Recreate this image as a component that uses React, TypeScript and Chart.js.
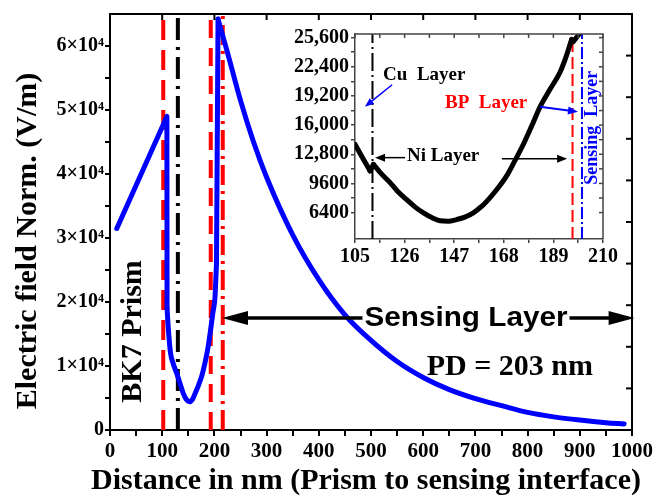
import React, { useEffect, useRef } from "react";
import { Chart, registerables } from "chart.js";

Chart.register(...registerables);

// ---------- Main chart data ----------
const DIST_NM = [13, 109, 109.3, 112, 116, 121, 128, 134, 140, 146, 152, 158, 164, 170, 176, 182, 188, 192, 197, 201, 204, 207, 226, 250, 275, 300, 350, 400, 450, 500, 550, 600, 650, 700, 750, 800, 850, 900, 950, 985];
const FIELD_VM = [31500, 49000, 19000, 15500, 12000, 10400, 8800, 7300, 5800, 4800, 4400, 4800, 5900, 7100, 8500, 10500, 13000, 15200, 18300, 20600, 26000, 64200, 58700, 51500, 45000, 39500, 30500, 23500, 18000, 14000, 10700, 8200, 6300, 4900, 3800, 2750, 2050, 1550, 1150, 950];
// index ranges of the curve: [start, end, smooth]
const MAIN_PIECES: [number, number, boolean][] = [[0, 2, false], [2, 20, true], [20, 21, false], [21, 39, true]];

// interface positions (nm)
const IFACE_X = [102, 130, 193, 216];
const IFACE_COLOR = ["#ff0000", "#000000", "#ff0000", "#ff0000"];
const IFACE_DASH = [[20, 10], [22, 7, 3, 7], [18, 10], [20, 6, 3, 6]];

const X_MAJOR = [0, 100, 200, 300, 400, 500, 600, 700, 800, 900, 1000];
const X_LABELS = ["0", "100", "200", "300", "400", "500", "600", "700", "800", "900", "1000"];
const Y_MAJOR = [0, 10000, 20000, 30000, 40000, 50000, 60000];
const Y_LABELS = ["0", "1×10⁴", "2×10⁴", "3×10⁴", "4×10⁴", "5×10⁴", "6×10⁴"];
const Y_MIN = 0;
const Y_MAX = 65000;

// ---------- Inset data ----------
const INSET_X = [105, 108, 111.4, 112.8, 116, 119.8, 123, 126.9, 130.5, 134, 137.5, 141, 144.5, 148, 151.5, 155.1, 158.7, 162.2, 165.7, 169.2, 172.7, 176.3, 179.8, 183.3, 187.5, 191.8, 194.5, 196.7, 197.4, 200.5];
const INSET_Y = [13900, 12500, 10970, 11700, 10700, 9700, 8750, 7820, 7000, 6360, 5850, 5500, 5450, 5630, 5900, 6370, 7100, 8050, 9150, 10430, 12100, 13900, 15900, 17980, 19900, 21800, 23600, 25400, 25150, 26200];
const INSET_PIECES: [number, number, boolean][] = [[0, 2, true], [2, 3, false], [3, 27, true], [27, 29, false]];
const INSET_LINES_X = [112.4, 197.1, 201.1];
const INSET_LINES_COLOR = ["#000000", "#ff0000", "#0000ff"];
const INSET_LINES_DASH = [[18, 4, 2, 4], [12, 5], [12, 3, 2, 3]];
const INSET_X_MAJOR = [105, 126, 147, 168, 189, 210];
const INSET_X_LABELS = ["105", "126", "147", "168", "189", "210"];
const INSET_Y_MAJOR = [6400, 9600, 12800, 16000, 19200, 22400, 25600];
const INSET_Y_LABELS = ["6400", "9600", "12,800", "16,000", "19,200", "22,400", "25,600"];
const INSET_Y_MIN = 3500;
const INSET_Y_MAX = 26000;

const SERIF = '"Liberation Serif", "Times New Roman", serif';
const SANS = '"Liberation Sans", Arial, sans-serif';

function withMinors(major: number[]): number[] {
  const out: number[] = [];
  for (let i = 0; i < major.length; i++) {
    out.push(major[i]);
    if (i < major.length - 1) out.push((major[i] + major[i + 1]) / 2);
  }
  return out;
}

function pieceDatasets(xs: number[], ys: number[], pieces: [number, number, boolean][], color: string, width: number) {
  return pieces.map(([s, e, smooth]) => ({
    data: xs.slice(s, e + 1).map((x, i) => ({ x, y: ys[s + i] })),
    borderColor: color,
    borderWidth: width,
    pointRadius: 0,
    tension: 0,
    cubicInterpolationMode: smooth ? "monotone" : "default",
    borderJoinStyle: "round",
    borderCapStyle: "round",
    order: 0,
  }));
}

function drawArrow(ctx: CanvasRenderingContext2D, x1: number, y1: number, x2: number, y2: number, color: string, lw: number, headLen: number, headHalf: number) {
  const ang = Math.atan2(y2 - y1, x2 - x1);
  const c = Math.cos(ang), s = Math.sin(ang);
  ctx.save();
  ctx.strokeStyle = color;
  ctx.fillStyle = color;
  ctx.lineWidth = lw;
  ctx.setLineDash([]);
  ctx.beginPath();
  ctx.moveTo(x1, y1);
  ctx.lineTo(x2 - c * headLen * 0.8, y2 - s * headLen * 0.8);
  ctx.stroke();
  ctx.beginPath();
  ctx.moveTo(x2, y2);
  ctx.lineTo(x2 - headLen * c + headHalf * s, y2 - headLen * s - headHalf * c);
  ctx.lineTo(x2 - headLen * c - headHalf * s, y2 - headLen * s + headHalf * c);
  ctx.closePath();
  ctx.fill();
  ctx.restore();
}

const mainDecor = {
  id: "mainDecor",
  afterDatasetsDraw(chart: any) {
    const { ctx, chartArea: a, scales } = chart;
    const xs = scales.x, ys = scales.y;
    ctx.save();
    ctx.strokeStyle = "#000";
    ctx.lineWidth = 2;
    ctx.beginPath();
    ctx.moveTo(a.left, a.top);
    ctx.lineTo(a.right, a.top);
    ctx.lineTo(a.right, a.bottom);
    ctx.stroke();
    for (const v of X_MAJOR) {
      const px = xs.getPixelForValue(v);
      ctx.beginPath();
      ctx.moveTo(px, a.top);
      ctx.lineTo(px, a.top + 6);
      ctx.stroke();
    }
    for (let i = 0; i <= 10; i++) {
      const py = ys.getPixelForValue(Y_MIN + ((Y_MAX - Y_MIN) * i) / 10);
      ctx.beginPath();
      ctx.moveTo(a.right, py);
      ctx.lineTo(a.right - 6, py);
      ctx.stroke();
    }

    ctx.fillStyle = "#000";
    ctx.save();
    ctx.translate(xs.getPixelForValue(44), ys.getPixelForValue(15400));
    ctx.rotate(-Math.PI / 2);
    ctx.font = `bold 30px ${SERIF}`;
    ctx.textAlign = "center";
    ctx.textBaseline = "middle";
    ctx.fillText("BK7 Prism", 0, 0);
    ctx.restore();

    const ty = ys.getPixelForValue(17500);
    const tcx = xs.getPixelForValue(682);
    ctx.save();
    ctx.font = `bold 27px ${SANS}`;
    const w = ctx.measureText("Sensing Layer").width;
    const sx = 1.1;
    const tl = tcx - (w * sx) / 2;
    const tr = tcx + (w * sx) / 2;
    ctx.translate(tcx, ty);
    ctx.scale(sx, 1);
    ctx.textAlign = "center";
    ctx.textBaseline = "middle";
    ctx.fillText("Sensing Layer", 0, 1);
    ctx.restore();
    drawArrow(ctx, tl - 2, ty, xs.getPixelForValue(214.6), ty, "#000", 3.5, 26, 7);
    drawArrow(ctx, tr + 2, ty, xs.getPixelForValue(1005), ty, "#000", 3.5, 26, 7);

    ctx.font = `bold 30px ${SERIF}`;
    ctx.textAlign = "center";
    ctx.textBaseline = "middle";
    ctx.fillText("PD = 203 nm", xs.getPixelForValue(766), ys.getPixelForValue(9850));
    ctx.restore();
  },
  afterDraw(chart: any) {
    const { ctx } = chart;
    ctx.save();
    ctx.fillStyle = "#000";
    ctx.font = `bold 30px ${SERIF}`;
    ctx.textAlign = "center";
    ctx.textBaseline = "middle";
    ctx.fillText("Distance in nm (Prism to sensing interface)", 366, 481);
    ctx.translate(28, 241);
    ctx.rotate(-Math.PI / 2);
    ctx.fillText("Electric field Norm. (V/m)", 0, 0);
    ctx.restore();
  },
};

const insetDecor = {
  id: "insetDecor",
  afterDatasetsDraw(chart: any) {
    const { ctx, chartArea: a, scales } = chart;
    const xs = scales.x, ys = scales.y;
    ctx.save();
    ctx.strokeStyle = "#444";
    ctx.lineWidth = 1.5;
    ctx.beginPath();
    ctx.moveTo(a.left, a.top);
    ctx.lineTo(a.right, a.top);
    ctx.lineTo(a.right, a.bottom);
    ctx.stroke();
    for (const v of withMinors(INSET_X_MAJOR)) {
      const px = xs.getPixelForValue(v);
      ctx.beginPath();
      ctx.moveTo(px, a.top);
      ctx.lineTo(px, a.top + 4);
      ctx.stroke();
    }
    for (const v of withMinors(INSET_Y_MAJOR)) {
      const py = ys.getPixelForValue(v);
      ctx.beginPath();
      ctx.moveTo(a.right, py);
      ctx.lineTo(a.right - 4, py);
      ctx.stroke();
    }

    const P = (x: number, y: number) => [xs.getPixelForValue(x), ys.getPixelForValue(y)];
    ctx.font = `bold 19px ${SERIF}`;
    ctx.textBaseline = "middle";
    ctx.textAlign = "left";
    ctx.fillStyle = "#000";
    let p = P(116.9, 21500);
    ctx.fillText("Cu  Layer", p[0], p[1]);
    ctx.fillStyle = "#ff0000";
    p = P(143.1, 18450);
    ctx.fillText("BP  Layer", p[0], p[1]);
    ctx.fillStyle = "#000";
    p = P(127.0, 12550);
    ctx.fillText("Ni Layer", p[0], p[1]);

    ctx.save();
    p = P(205.6, 15700);
    ctx.translate(p[0], p[1]);
    ctx.rotate(-Math.PI / 2);
    ctx.fillStyle = "#0000ff";
    ctx.font = `bold 18px ${SERIF}`;
    ctx.textAlign = "center";
    ctx.fillText("Sensing  Layer", 0, 0);
    ctx.restore();

    let s = P(120.7, 20430), e = P(109.2, 18020);
    drawArrow(ctx, s[0], s[1], e[0], e[1], "#0000ff", 1.5, 9, 3.5);
    s = P(183.3, 18020); e = P(199.4, 17470);
    drawArrow(ctx, s[0], s[1], e[0], e[1], "#0000ff", 2, 10, 4);
    s = P(126.2, 12430); e = P(113.5, 12430);
    drawArrow(ctx, s[0], s[1], e[0], e[1], "#000", 1.5, 10, 4);
    s = P(167.2, 12320); e = P(194.8, 12320);
    drawArrow(ctx, s[0], s[1], e[0], e[1], "#000", 1.5, 10, 4);
    ctx.restore();
  },
};

export default function App() {
  const mainRef = useRef<HTMLCanvasElement>(null);
  const insetRef = useRef<HTMLCanvasElement>(null);

  useEffect(() => {
    const mainDatasets: any[] = [
      ...pieceDatasets(DIST_NM, FIELD_VM, MAIN_PIECES, "#0000ff", 5),
      ...IFACE_X.map((x, i) => ({
        data: [{ x, y: Y_MIN }, { x, y: Y_MAX }],
        borderColor: IFACE_COLOR[i],
        borderWidth: 4,
        borderDash: IFACE_DASH[i],
        pointRadius: 0,
        order: 1 + i,
      })),
    ];

    const main = new Chart(mainRef.current as HTMLCanvasElement, {
      type: "line",
      data: { datasets: mainDatasets },
      options: {
        animation: false,
        responsive: false,
        devicePixelRatio: 1,
        layout: { padding: { left: 0, top: 14, right: 24, bottom: 0 } },
        plugins: { legend: { display: false }, tooltip: { enabled: false } },
        scales: {
          x: {
            type: "linear",
            min: 0,
            max: 1000,
            afterBuildTicks: (s: any) => {
              s.ticks = withMinors(X_MAJOR).map((v) => ({ value: v }));
            },
            afterFit: (s: any) => {
              s.height = 67;
            },
            ticks: {
              autoSkip: false,
              maxRotation: 0,
              color: "#000",
              padding: 3,
              font: { family: SERIF, weight: "bold", size: 21 },
              callback: (v: any) => {
                const i = X_MAJOR.indexOf(Number(v));
                return i >= 0 ? X_LABELS[i] : "";
              },
            },
            grid: { drawOnChartArea: false, color: "#000", lineWidth: 2, tickLength: 6 },
            border: { color: "#000", width: 2 },
          },
          y: {
            type: "linear",
            min: Y_MIN,
            max: Y_MAX,
            afterBuildTicks: (s: any) => {
              s.ticks = withMinors(Y_MAJOR).map((v) => ({ value: v }));
            },
            afterFit: (s: any) => {
              s.width = 110;
            },
            ticks: {
              autoSkip: false,
              color: "#000",
              padding: 1,
              font: { family: SERIF, weight: "bold", size: 20 },
              callback: (v: any) => {
                const i = Y_MAJOR.indexOf(Number(v));
                return i >= 0 ? Y_LABELS[i] : "";
              },
            },
            grid: { drawOnChartArea: false, color: "#000", lineWidth: 2, tickLength: 5 },
            border: { color: "#000", width: 2 },
          },
        },
      } as any,
      plugins: [mainDecor],
    });

    const insetDatasets: any[] = [
      ...pieceDatasets(INSET_X, INSET_Y, INSET_PIECES, "#000", 5),
      ...INSET_LINES_X.map((x, i) => ({
        data: [{ x, y: INSET_Y_MIN }, { x, y: INSET_Y_MAX }],
        borderColor: INSET_LINES_COLOR[i],
        borderWidth: 2,
        borderDash: INSET_LINES_DASH[i],
        pointRadius: 0,
        order: 1 + i,
      })),
    ];

    const inset = new Chart(insetRef.current as HTMLCanvasElement, {
      type: "line",
      data: { datasets: insetDatasets },
      options: {
        animation: false,
        responsive: false,
        devicePixelRatio: 1,
        layout: { padding: { left: 0, top: 24, right: 42, bottom: 0 } },
        plugins: { legend: { display: false }, tooltip: { enabled: false } },
        scales: {
          x: {
            type: "linear",
            min: 105,
            max: 210,
            afterBuildTicks: (s: any) => {
              s.ticks = withMinors(INSET_X_MAJOR).map((v) => ({ value: v }));
            },
            afterFit: (s: any) => {
              s.height = 41;
            },
            ticks: {
              autoSkip: false,
              maxRotation: 0,
              color: "#000",
              padding: 2,
              font: { family: SERIF, weight: "bold", size: 20 },
              callback: (v: any) => {
                const i = INSET_X_MAJOR.indexOf(Number(v));
                return i >= 0 ? INSET_X_LABELS[i] : "";
              },
            },
            grid: { drawOnChartArea: false, color: "#444", lineWidth: 1.5, tickLength: 4 },
            border: { color: "#444", width: 1.5 },
          },
          y: {
            type: "linear",
            min: INSET_Y_MIN,
            max: INSET_Y_MAX,
            afterBuildTicks: (s: any) => {
              s.ticks = withMinors(INSET_Y_MAJOR).map((v) => ({ value: v }));
            },
            afterFit: (s: any) => {
              s.width = 105;
            },
            ticks: {
              autoSkip: false,
              color: "#000",
              padding: 2,
              font: { family: SERIF, weight: "bold", size: 20 },
              callback: (v: any) => {
                const i = INSET_Y_MAJOR.indexOf(Number(v));
                return i >= 0 ? INSET_Y_LABELS[i] : "";
              },
            },
            grid: { drawOnChartArea: false, color: "#444", lineWidth: 1.5, tickLength: 4 },
            border: { color: "#444", width: 1.5 },
          },
        },
      } as any,
      plugins: [insetDecor],
    });

    return () => {
      main.destroy();
      inset.destroy();
    };
  }, []);

  return (
    <div style={{ position: "fixed", left: 0, top: 0, width: 656, height: 497, background: "#fff" }}>
      <canvas ref={mainRef} width={656} height={497} style={{ position: "absolute", left: 0, top: 0, width: 656, height: 497 }} />
      <canvas ref={insetRef} width={395} height={270} style={{ position: "absolute", left: 250, top: 10, width: 395, height: 270 }} />
    </div>
  );
}
